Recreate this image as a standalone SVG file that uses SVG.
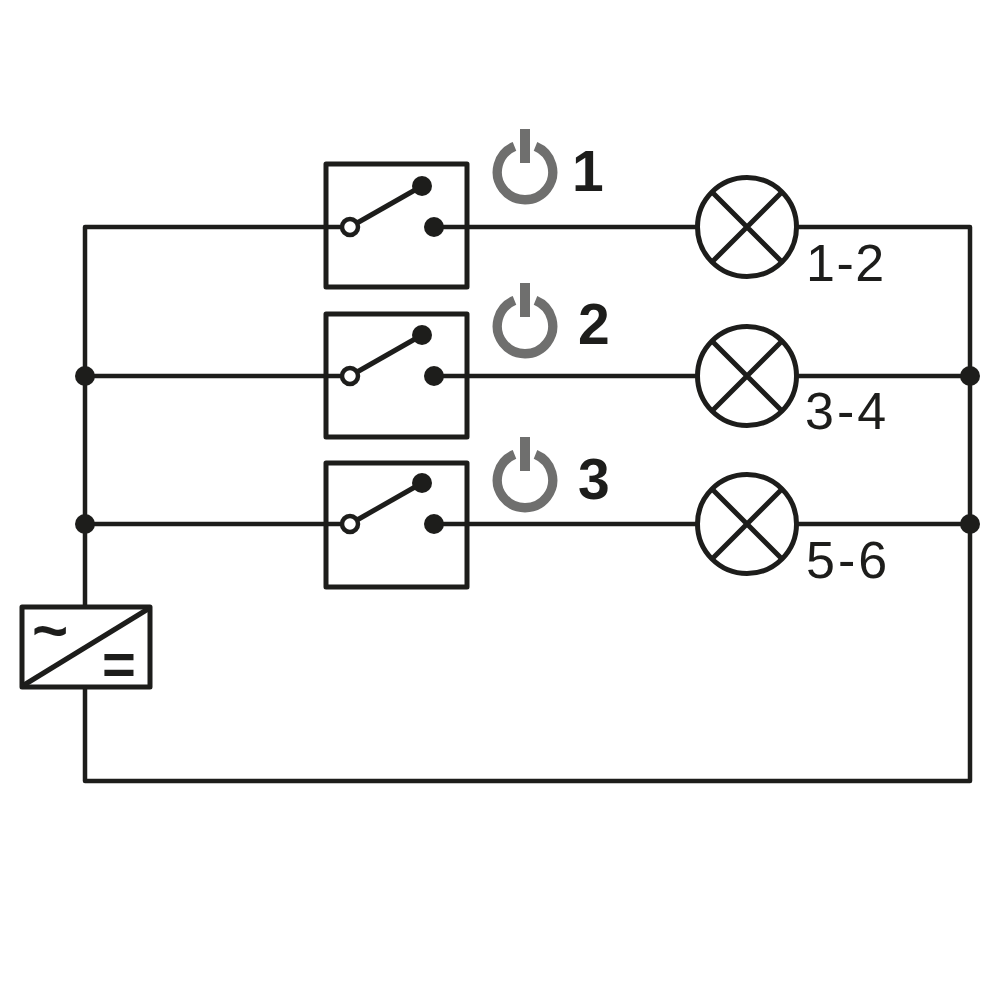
<svg xmlns="http://www.w3.org/2000/svg" width="1000" height="1000" viewBox="0 0 1000 1000" xmlns:xlink="http://www.w3.org/1999/xlink">
<style>
.w{fill:none;stroke:#1d1d1b;stroke-width:4.5;stroke-linejoin:round}
.b{fill:#fff;stroke:#1d1d1b;stroke-width:5;stroke-linejoin:round}
.c{fill:none;stroke:#1d1d1b;stroke-width:5}
.d{fill:#1d1d1b}
.bar{fill:#6f6f6e}
.ring{fill:none;stroke:#6f6f6e;stroke-width:9.3}
.num{font-family:"Liberation Sans",Arial,sans-serif;font-weight:700;font-size:57px;fill:#1d1d1b}
.lab{font-family:"Liberation Sans",Arial,sans-serif;font-size:52px;letter-spacing:3px;fill:#1d1d1b}
.sym{font-family:"Liberation Sans",Arial,sans-serif;font-weight:700;fill:#1d1d1b;text-anchor:middle}
</style>
<defs>
<g id="lamp"><circle class="b" r="49.5"/><path class="c" d="M-35-35L35 35M-35 35L35-35"/></g>
<g id="contacts"><path class="w" d="M0 0H24M108 0H141"/><path class="c" d="M24 0L96-41"/><circle class="d" cx="96" cy="-41" r="10"/><circle class="d" cx="108" cy="0" r="10"/><circle cx="24" cy="0" r="8" fill="#fff" stroke="#1d1d1b" stroke-width="4.5"/></g>
<g id="pw"><path class="ring" d="M514.5 146.4A27.7 27.7 0 1 0 535.5 146.4"/><rect class="bar" x="520" y="129" width="10" height="34"/></g>
</defs>
<g id="connectors">
<path class="w" d="M326 227H85V607M85 687V781H970V227H796M85 376H326M85 524H326M467 227H698M467 376H698M467 524H698M796 376H970M796 524H970"/>
<circle class="d" cx="85" cy="376" r="10"/><circle class="d" cx="85" cy="524" r="10"/><circle class="d" cx="970" cy="376" r="10"/><circle class="d" cx="970" cy="524" r="10"/>
</g>
<g id="switch1"><rect class="b" x="326" y="164" width="141" height="123"/><use href="#contacts" xlink:href="#contacts" x="326" y="227"/><use href="#pw" xlink:href="#pw"/><text class="num" x="572" y="191">1</text></g>
<g id="switch2"><rect class="b" x="326" y="314" width="141" height="123"/><use href="#contacts" xlink:href="#contacts" x="326" y="376"/><use href="#pw" xlink:href="#pw" y="154"/><text class="num" x="578" y="344">2</text></g>
<g id="switch3"><rect class="b" x="326" y="463" width="141" height="124"/><use href="#contacts" xlink:href="#contacts" x="326" y="524"/><use href="#pw" xlink:href="#pw" y="308"/><text class="num" x="578" y="499">3</text></g>
<g id="lamp1"><use href="#lamp" xlink:href="#lamp" x="747" y="227"/><text class="lab" style="letter-spacing:1.5px" x="806" y="281">1-2</text></g>
<g id="lamp2"><use href="#lamp" xlink:href="#lamp" x="747" y="376"/><text class="lab" x="805" y="429">3-4</text></g>
<g id="lamp3"><use href="#lamp" xlink:href="#lamp" x="747" y="524"/><text class="lab" x="806" y="578">5-6</text></g>
<g id="converter"><rect class="b" x="22" y="607" width="128" height="80"/><path class="c" d="M24 685L148 609"/>
<text class="sym" x="50" y="651" font-size="62">~</text>
<text class="sym" x="119" y="684" font-size="58">=</text></g>
</svg>
